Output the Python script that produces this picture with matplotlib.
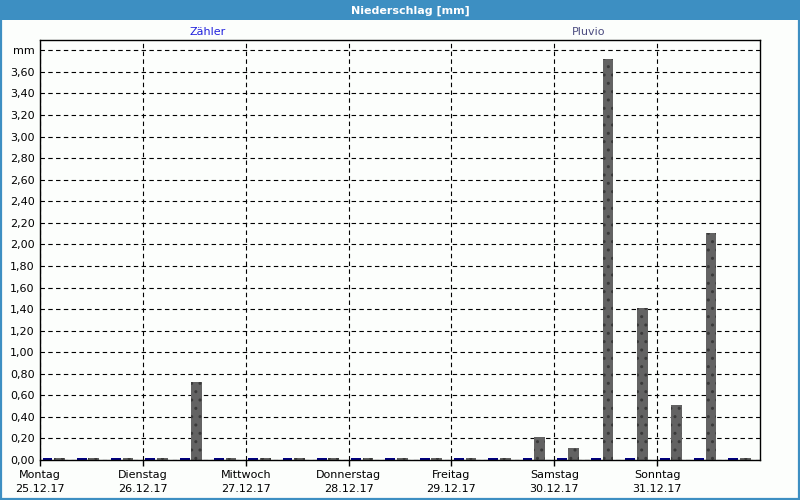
import numpy as np
import matplotlib
matplotlib.use("Agg")
import matplotlib.pyplot as plt
from matplotlib.patches import Rectangle

# Niederschlag, 8-Stunden-Intervalle (25.12.17 - 31.12.17)
tage = ['Montag', 'Dienstag', 'Mittwoch', 'Donnerstag', 'Freitag', 'Samstag', 'Sonntag']
daten = ['25.12.17', '26.12.17', '27.12.17', '28.12.17', '29.12.17', '30.12.17', '31.12.17']
zaehler = [0.00, 0.00, 0.00, 0.00, 0.00, 0.00, 0.00,
           0.00, 0.00, 0.00, 0.00, 0.00, 0.00, 0.00,
           0.00, 0.00, 0.00, 0.00, 0.00, 0.00, 0.00]
pluvio = [0.00, 0.00, 0.00, 0.00, 0.72, 0.00, 0.00,
          0.00, 0.00, 0.00, 0.00, 0.00, 0.00, 0.00,
          0.21, 0.11, 3.72, 1.41, 0.51, 2.11, 0.00]
y_ticks = [0.0, 0.2, 0.4, 0.6, 0.8, 1.0, 1.2, 1.4, 1.6, 1.8,
           2.0, 2.2, 2.4, 2.6, 2.8, 3.0, 3.2, 3.4, 3.6, 3.8]

plt.rcParams['font.family'] = ['DejaVu Sans']

fig = plt.figure(figsize=(8, 5), dpi=100, facecolor='#fcfefc')
ax = fig.add_axes([0.05, 0.08, 0.90, 0.84])
ax.set_facecolor('#fcfefc')

# Rahmen und Titelleiste
blau = '#3d8fc2'
fig.patches.append(Rectangle((0, 1 - 20 / 500), 1, 20 / 500, transform=fig.transFigure,
                             facecolor=blau, edgecolor='none', zorder=0))
fig.patches.append(Rectangle((0.0015, 0.002), 0.997, 0.996, transform=fig.transFigure,
                             facecolor='none', edgecolor=blau, linewidth=1.6, zorder=0))
fig.text(410 / 800, 1 - 11 / 500, 'Niederschlag [mm]', color='white', fontsize=8,
         fontweight='bold', ha='center', va='center')
fig.text(208 / 800, 1 - 32 / 500, 'Zähler', color='#2222dd', fontsize=8, ha='center', va='center')
fig.text(589 / 800, 1 - 32 / 500, 'Pluvio', color='#4c4c80', fontsize=8, ha='center', va='center')

# Balken (x in Stunden)
start = np.arange(len(pluvio)) * 8
stub = 0.018  # Nullwerte als schmaler Strich sichtbar
ax.bar(start + 1.75, np.maximum(zaehler, stub), width=2.3, color='#000080',
       linewidth=0, zorder=3)
ax.bar(start + 4.55, np.maximum(pluvio, stub), width=2.5, color='#636363',
       edgecolor='#3a3a3a', linewidth=0, hatch='..', zorder=3)

ax.set_xlim(0, 168)
ax.set_ylim(0, 3.896)

ax.set_yticks(y_ticks)
ax.set_yticklabels([f'{v:.2f}'.replace('.', ',') for v in y_ticks[:-1]] + ['mm'])
ax.set_xticks(np.arange(7) * 24)
ax.set_xticklabels([f'{t}\n{d}' for t, d in zip(tage, daten)], linespacing=1.55)
ax.tick_params(axis='y', length=0, pad=4, labelsize=8)
ax.tick_params(axis='x', length=4, width=1, pad=3, labelsize=8)

ax.grid(True, color='black', linestyle=(0, (4, 3)), linewidth=0.8, zorder=1)
for s in ax.spines.values():
    s.set_linewidth(1.0)
    s.set_zorder(4)

fig.savefig('out.png', dpi=100, facecolor=fig.get_facecolor())
